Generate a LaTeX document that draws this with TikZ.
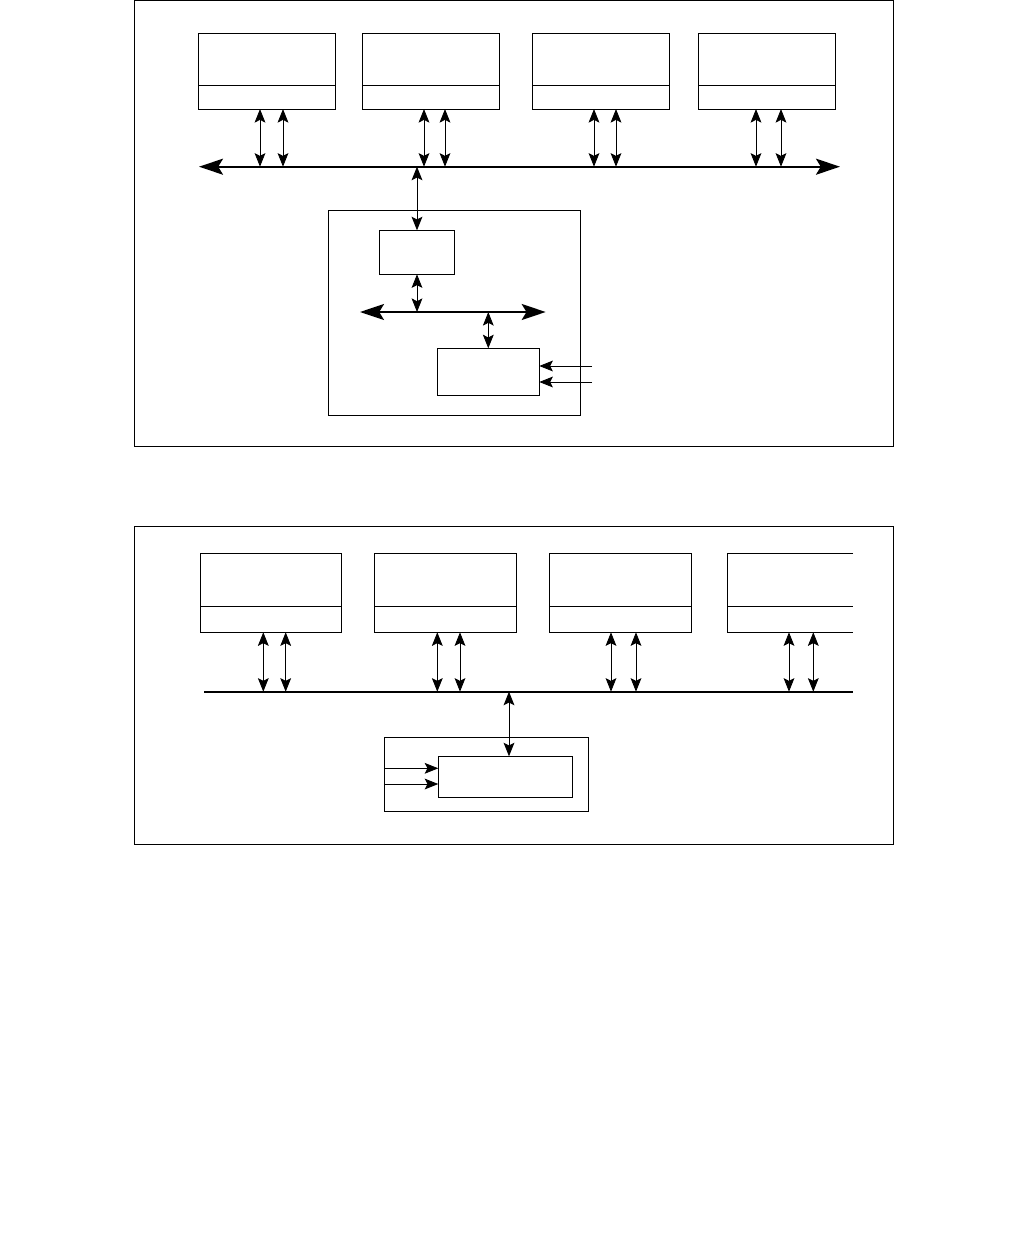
\documentclass[tikz,border=0pt]{standalone}
\usetikzlibrary{arrows.meta,positioning,calc}

\begin{document}
\begin{tikzpicture}[x=0.025cm,y=-0.025cm,
  frame/.style={draw,line width=0.7pt},
  unit/.style={draw,line width=0.7pt,inner sep=0pt,outer sep=0pt,minimum width=3.42cm,minimum height=1.3cm},
  port/.style={unit,minimum height=0.6cm},
  unitb/.style={unit,minimum width=3.54cm,minimum height=1.325cm},
  portb/.style={unitb,minimum height=0.65cm},
  link/.style={{Stealth[length=3.4mm,width=2.7mm,inset=0.7mm]}-{Stealth[length=3.4mm,width=2.7mm,inset=0.7mm]},line width=0.6pt},
  feed/.style={-{Stealth[length=3.4mm,width=2.7mm,inset=0.7mm]},line width=0.6pt},
  bus/.style={{Stealth[length=6mm,width=4mm,inset=1.2mm]}-{Stealth[length=6mm,width=4mm,inset=1.2mm]},line width=1.5pt},
  node distance=0pt]
  \useasboundingbox (0,0) rectangle (1026,1257);
  % upper system
  \draw[frame] (134.5,0.5) rectangle (893,446);
  \foreach \n/\x in {1/266.75,2/430.65,3/601,4/766.8}{
    \node[unit] (c\n) at (\x,59) {};
    \node[port,below=of c\n] (p\n) {};
  }
  \coordinate (busL) at (199,166.7);
  \coordinate (busR) at (840,166.7);
  \draw[bus] (busL)--(busR);
  \foreach \n/\a/\b in {1/260/283,2/424/445,3/594/616,4/756/781}{
    \draw[link] (p\n.south -| \a,0)--(busL -| \a,0);
    \draw[link] (p\n.south -| \b,0)--(busL -| \b,0);
  }
  \node[frame,inner sep=0pt,minimum width=6.31cm,minimum height=5.115cm] (hst) at (454.5,313) {};
  \node[unit,minimum width=1.885cm,minimum height=1.1cm] (cpu) at (417,252.3) {};
  \node[unit,minimum width=2.55cm,minimum height=1.175cm] (io) at (488.3,371.8) {};
  \coordinate (lbusL) at (360,312);
  \coordinate (lbusR) at (545.7,312);
  \draw[bus] (lbusL)--(lbusR);
  \draw[link] (cpu.north)--(cpu.north |- busL);
  \draw[link] (cpu.south)--(cpu.south |- lbusL);
  \draw[link] (io.north)--(io.north |- lbusL);
  \coordinate (in1) at (592,366);
  \coordinate (in2) at (592,382);
  \draw[feed] (in1)--(in1 -| io.east);
  \draw[feed] (in2)--(in2 -| io.east);
  % lower system
  \draw[frame] (134.5,526) rectangle (893,844.5);
  \foreach \n/\x in {1/271,2/445.5,3/620.5}{
    \node[unitb] (d\n) at (\x,579.8) {};
    \node[portb,below=of d\n] (q\n) {};
  }
  \coordinate (d4) at (727.3,553.3);
  \coordinate (q4) at (727.3,632.3);
  \draw[line width=0.7pt] (853,553.3)--(d4)--(q4)--(853,632.3);
  \draw[line width=0.7pt] (727.3,606.3)--(853,606.3);
  \coordinate (bbusL) at (204,691.7);
  \coordinate (bbusR) at (853,691.7);
  \draw[line width=1.5pt] (bbusL)--(bbusR);
  \foreach \n/\a/\b in {1/263.3/285.7,2/437.3/460,3/611/636,4/789/813.3}{
    \draw[link] (q\n.south -| \a,0)--(bbusL -| \a,0);
    \draw[link] (q\n.south -| \b,0)--(bbusL -| \b,0);
  }
  \node[frame,inner sep=0pt,minimum width=5.1cm,minimum height=1.85cm] (dev) at (486.3,774.3) {};
  \node[unit,minimum width=3.35cm,minimum height=1.025cm] (ctl) at (505.3,776.8) {};
  \draw[link] (ctl.north -| 509,0)--(bbusL -| 509,0);
  \draw[feed] (dev.west |- 0,768.3)--(ctl.west |- 0,768.3);
  \draw[feed] (dev.west |- 0,784)--(ctl.west |- 0,784);
\end{tikzpicture}
\end{document}
